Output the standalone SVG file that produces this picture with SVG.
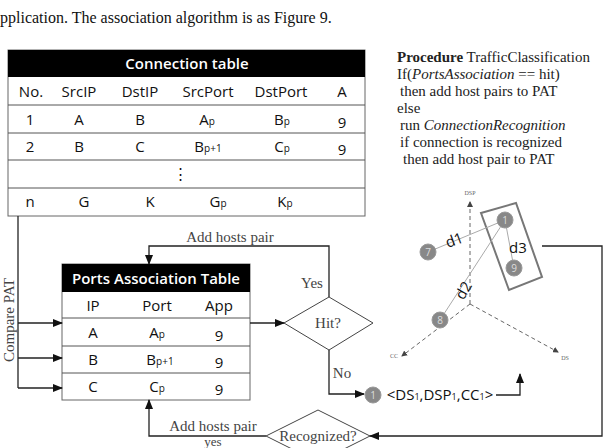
<svg xmlns="http://www.w3.org/2000/svg" width="609" height="448" viewBox="0 0 609 448">
<style>
.s{font-family:"Open Sans","Noto Sans",sans-serif;font-size:15px;fill:#111;text-anchor:middle}
.h{font-family:"Open Sans","Noto Sans",sans-serif;font-size:15px;font-weight:600;fill:#fff;text-anchor:middle}
.t{font-family:"Liberation Serif",serif;font-size:15px;fill:#222}
.tc{font-family:"Liberation Serif",serif;font-size:15px;fill:#444;text-anchor:middle}
.ln{stroke:#555;stroke-width:1;fill:none}
.c{stroke:#222;stroke-width:1.3;fill:none}
.ax{stroke:#666;stroke-width:1;stroke-dasharray:4,3;fill:none}
.dot{fill:#888;stroke:#999}
.dn{font-family:"Open Sans",sans-serif;font-size:10px;fill:#ddd;text-anchor:middle}
</style>
<defs>
<marker id="a" markerWidth="10" markerHeight="8" refX="9" refY="4" orient="auto" markerUnits="userSpaceOnUse"><path d="M0,0L10,4L0,8z" fill="#111"/></marker>
<marker id="b" markerWidth="6" markerHeight="6" refX="5" refY="3" orient="auto" markerUnits="userSpaceOnUse"><path d="M0,0L6,3L0,6z" fill="#444"/></marker>
</defs>
<rect width="609" height="448" fill="#fff"/>
<text x="0" y="23" font-family="Liberation Serif,serif" font-size="16" fill="#111">pplication. The association algorithm is as Figure 9.</text>

<g id="conn-table">
<rect x="8" y="50" width="357" height="166" fill="#fff" stroke="#666"/>
<rect x="8" y="50" width="357" height="27" fill="#000"/>
<text class="h" x="187" y="69">Connection table</text>
<g class="ln"><line x1="8" y1="105" x2="365" y2="105"/><line x1="8" y1="133" x2="365" y2="133"/><line x1="8" y1="160" x2="365" y2="160"/><line x1="8" y1="188" x2="365" y2="188"/></g>
<text class="s" y="97"><tspan x="31">No.</tspan><tspan x="79">SrcIP</tspan><tspan x="140">DstIP</tspan><tspan x="208">SrcPort</tspan><tspan x="281">DstPort</tspan><tspan x="342">A</tspan></text>
<text class="s" y="125"><tspan x="30">1</tspan><tspan x="79">A</tspan><tspan x="140">B</tspan><tspan x="207">A<tspan font-size="10">p</tspan></tspan><tspan x="282">B<tspan font-size="10">p</tspan></tspan><tspan x="342" y="128">9</tspan></text>
<text class="s" y="152"><tspan x="30">2</tspan><tspan x="79">B</tspan><tspan x="140">C</tspan><tspan x="208">B<tspan font-size="10">p+1</tspan></tspan><tspan x="282">C<tspan font-size="10">p</tspan></tspan><tspan x="342" y="155">9</tspan></text>
<text class="s" x="180" y="179">⋮</text>
<text class="s" y="207"><tspan x="30">n</tspan><tspan x="84">G</tspan><tspan x="150">K</tspan><tspan x="218">G<tspan font-size="10">p</tspan></tspan><tspan x="285">K<tspan font-size="10">p</tspan></tspan></text>
</g>

<g id="procedure" class="t">
<text x="397" y="62"><tspan font-weight="bold">Procedure</tspan> TrafficClassification</text>
<text x="397" y="79">If(<tspan font-style="italic">PortsAssociation</tspan> == hit)</text>
<text x="400" y="96">then add host pairs to PAT</text>
<text x="397" y="113">else</text>
<text x="400" y="130">run <tspan font-style="italic">ConnectionRecognition</tspan></text>
<text x="400" y="147">if connection is recognized</text>
<text x="403" y="164">then add host pair to PAT</text>
</g>

<g id="pat">
<rect x="62" y="264" width="188" height="136" fill="#fff" stroke="#666"/>
<rect x="62" y="264" width="188" height="28" fill="#000"/>
<text class="h" x="156" y="284">Ports Association Table</text>
<g class="ln"><line x1="62" y1="318" x2="250" y2="318"/><line x1="62" y1="346" x2="250" y2="346"/><line x1="62" y1="373" x2="250" y2="373"/></g>
<text class="s" y="311"><tspan x="93">IP</tspan><tspan x="157">Port</tspan><tspan x="219">App</tspan></text>
<text class="s" y="338"><tspan x="93">A</tspan><tspan x="157">A<tspan font-size="10">p</tspan></tspan><tspan x="219" y="341">9</tspan></text>
<text class="s" y="365"><tspan x="93">B</tspan><tspan x="160">B<tspan font-size="10">p+1</tspan></tspan><tspan x="219" y="368">9</tspan></text>
<text class="s" y="392"><tspan x="93">C</tspan><tspan x="157">C<tspan font-size="10">p</tspan></tspan><tspan x="219" y="395">9</tspan></text>
</g>

<g id="hit">
<polygon points="284,323 329,297 373,323 329,350" fill="#fff" stroke="#444"/>
<text class="tc" x="328" y="328">Hit?</text>
</g>
<g id="recognized">
<polygon points="266,436 318,410 370,436 318,462" fill="#fff" stroke="#444"/>
<text class="tc" x="318" y="441">Recognized?</text>
</g>

<g id="plot">
<line class="ax" x1="470" y1="304" x2="470" y2="202" marker-end="url(#b)"/>
<line class="ax" x1="470" y1="304" x2="402" y2="356" marker-end="url(#b)"/>
<line class="ax" x1="470" y1="304" x2="558" y2="352" marker-end="url(#b)"/>
<text x="470" y="195" font-family="Liberation Serif,serif" font-size="6" fill="#666" text-anchor="middle">DSP</text>
<text x="394" y="358" font-family="Liberation Serif,serif" font-size="6" fill="#666" text-anchor="middle">CC</text>
<text x="565" y="360" font-family="Liberation Serif,serif" font-size="6" fill="#666" text-anchor="middle">DS</text>
<polygon points="481,213 516,203 542,277 509,290" fill="none" stroke="#777" stroke-width="2"/>
<g stroke="#aaa" stroke-width="1"><line x1="428" y1="252" x2="505" y2="220"/><line x1="505" y1="220" x2="514" y2="268"/><line x1="440" y1="320" x2="505" y2="220"/></g>
<circle class="dot" cx="505" cy="220" r="8"/><circle class="dot" cx="514" cy="268" r="8"/><circle class="dot" cx="428" cy="252" r="8"/><circle class="dot" cx="440" cy="320" r="8"/>
<text class="dn" x="505" y="224">1</text><text class="dn" x="514" y="272">9</text><text class="dn" x="428" y="256">7</text><text class="dn" x="440" y="324">8</text>
<text class="s" transform="translate(456,245) rotate(-20)">d1</text>
<text class="s" x="518" y="253">d3</text>
<text class="s" transform="translate(468,293) rotate(-60)">d2</text>
<circle class="dot" cx="373" cy="395" r="8"/><text class="dn" x="373" y="399">1</text>
<text class="s" x="440" y="400" font-size="14">&lt;DS<tspan font-size="9">1</tspan>,DSP<tspan font-size="9">1</tspan>,CC<tspan font-size="9">1</tspan>&gt;</text>
</g>

<g id="connectors">
<polyline class="c" points="18,216 18,388"/>
<line class="c" x1="18" y1="323" x2="62" y2="323" marker-end="url(#a)"/>
<line class="c" x1="18" y1="358" x2="62" y2="358" marker-end="url(#a)"/>
<line class="c" x1="18" y1="388" x2="62" y2="388" marker-end="url(#a)"/>
<line class="c" x1="250" y1="323" x2="284" y2="323" marker-end="url(#a)"/>
<polyline class="c" points="329,297 329,246 149,246 149,264" marker-end="url(#a)"/>
<polyline class="c" points="329,350 329,394 364,394" marker-end="url(#a)"/>
<polyline class="c" points="496,395 520,395 520,374" marker-end="url(#a)"/>
<polyline class="c" points="542,246 602,246 602,436 370,436" marker-end="url(#a)"/>
<polyline class="c" points="266,436 149,436 149,400" marker-end="url(#a)"/>
<g font-family="Liberation Serif,serif" font-size="15" fill="#444" text-anchor="middle">
<text x="230" y="242">Add hosts pair</text>
<text x="312" y="288">Yes</text>
<text x="342" y="378">No</text>
<text x="213" y="431">Add hosts pair</text>
<text x="213" y="446" font-size="13">yes</text>
<text transform="translate(14,320) rotate(-90)">Compare PAT</text>
</g>
</g>
</svg>
